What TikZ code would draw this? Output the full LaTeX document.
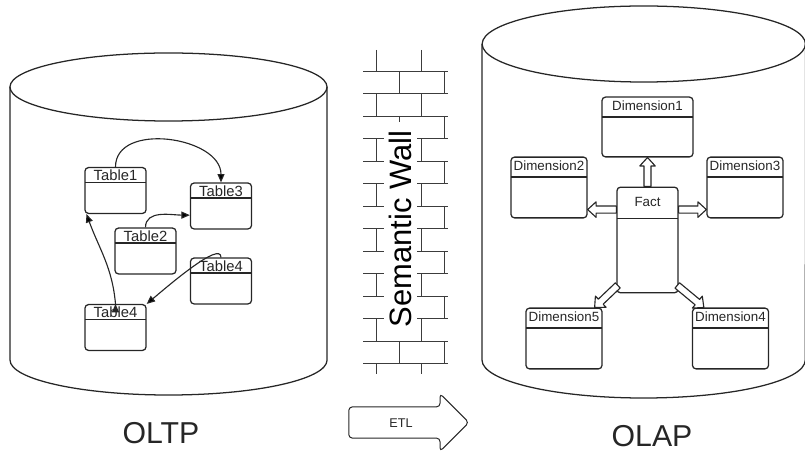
\documentclass[tikz,border=0pt]{standalone}
\usepackage{fontspec}
\setmainfont{Liberation Sans}
\usepackage{tikz}
\usetikzlibrary{arrows.meta,shapes.arrows,calc}

\definecolor{ink}{HTML}{262626}

% hollow block arrow between two named points
\newcommand{\fatarrow}[2]{%
	\coordinate (fa-h) at ($(#2)!6pt!(#1)$);
	\draw[fat] ($(#1)!2.5pt!90:(#2)$) -- ($(fa-h)!2.5pt!90:(#2)$) -- ($(fa-h)!5.5pt!90:(#2)$) -- (#2)
	-- ($(fa-h)!5.5pt!-90:(#2)$) -- ($(fa-h)!2.5pt!-90:(#2)$) -- ($(#1)!2.5pt!-90:(#2)$) -- cycle;}

\begin{document}
\begin{tikzpicture}[x=0.025cm,y=-0.025cm,
	db/.style={draw=ink,line width=0.9pt},
	brick/.style={draw=ink!90,line width=0.6pt},
	box/.style={draw=ink,line width=0.9pt,rounded corners=2.5pt,inner xsep=0pt,text=ink},
	hdr/.style={path picture={\draw[ink,line width=0.9pt] ([yshift=-#1]path picture bounding box.north west) -- ([yshift=-#1]path picture bounding box.north east);}},
	tbl/.style={box,hdr=0.375cm,minimum width=1.525cm,inner ysep=2pt,text height=7.5pt,text depth=21.1pt,font=\fontsize{10.5}{12}\selectfont},
	dim/.style={box,hdr=0.5cm,minimum width=1.9cm,inner ysep=3pt,text height=6.8pt,text depth=30.4pt,font=\fontsize{9.5}{11}\selectfont},
	fact/.style={box,hdr=0.775cm,minimum width=1.525cm,inner ysep=7pt,text height=6.8pt,text depth=54.3pt,font=\fontsize{9.5}{11}\selectfont},
	rel/.style={-{Triangle[length=6pt,width=5pt]},line width=0.8pt,draw=ink},
	fat/.style={draw=ink,line width=0.8pt,fill=white,line join=round},
	big/.style={font=\fontsize{21.5}{21.5}\selectfont,text=ink,inner sep=1pt}]
	\useasboundingbox (0,0) rectangle (805,451);
	
	% databases
	\draw[db] (10,87) -- (10,360) arc[start angle=180,end angle=360,x radius=3.9625cm,y radius=0.875cm] -- (327,87);
	\draw[db] (168.5,87) ellipse[x radius=3.9625cm,y radius=0.85cm];
	\draw[db] (482,44) -- (482,360) arc[start angle=180,end angle=360,x radius=4.04cm,y radius=0.95cm] -- (805.6,44);
	\draw[db] (643.8,44) ellipse[x radius=4.04cm,y radius=0.95cm];
	
	% OLTP tables
	\node[tbl] (t1) at (115.5,190.5) {Table1};
	\node[tbl] (t3) at (221,206) {Table3};
	\node[tbl] (t2) at (145.5,251) {Table2};
	\node[tbl] (t4b) at (221,281) {Table4};
	\node[tbl] (t4a) at (115.5,327.5) {Table4};
	\coordinate (t3in) at ([yshift=-6.5pt]t3.west);
	\coordinate (t1in) at ([xshift=1.5pt]t1.south west);
	%
	\path[rel]
	(t1.north) edge[out=90,in=90,looseness=1.1] (t3.north)
	(t2.north) edge[out=90,in=180] (t3in)
	(t4b.north) edge[out=90,in=40,out looseness=0.5,in looseness=0.8] (t4a.north east)
	(t4a.north) edge[out=95,in=-70] (t1in);
	
	% OLAP star schema
	\node[fact] (f) at (647.5,240) {Fact};
	\node[dim,minimum width=2.275cm,text depth=29.7pt] (d1) at (647.5,127) {Dimension1};
	\node[dim] (d2) at (549,187.5) {Dimension2};
	\node[dim] (d3) at (745,187.5) {Dimension3};
	\node[dim] (d5) at (564,338.5) {Dimension5};
	\node[dim] (d4) at (730.5,338.5) {Dimension4};
	\coordinate (fw) at ([yshift=-0.575cm]f.north west);
	\coordinate (fe) at ([yshift=-0.575cm]f.north east);
	\coordinate (d2e) at (d2.east |- fw);
	\coordinate (d3w) at (d3.west |- fe);
	\coordinate (fsw) at ([xshift=1pt,yshift=0.2cm]f.south west);
	\coordinate (fse) at ([xshift=-1pt,yshift=0.2cm]f.south east);
	\coordinate (d5in) at ([xshift=-0.2cm]d5.north east);
	\coordinate (d4in) at ([xshift=0.3cm]d4.north west);
	\fatarrow{f.north}{d1.south}
	\fatarrow{fw}{d2e}
	\fatarrow{fe}{d3w}
	\fatarrow{fsw}{d5in}
	\fatarrow{fse}{d4in}
	
	% brick wall
	\foreach \y in {71,93.5,...,363.5}
		\draw[brick] (363,\y) -- (448,\y);
	\foreach \ya/\yb in {50/71,93.5/116,138.5/161,183.5/206,228.5/251,273.5/296,318.5/341,363.5/374}
		\draw[brick] (376,\ya) -- (376,\yb) (421,\ya) -- (421,\yb);
	\foreach \ya in {71,116,161,206,251,296,341}
		\draw[brick] (399,\ya) -- (399,{\ya+22.5}) (444,\ya) -- (444,{\ya+22.5});
	\node[rotate=90,fill=white,inner xsep=5.9pt,inner ysep=4pt,font=\fontsize{22}{22}\selectfont] (wall) at (400.5,229) {Semantic Wall};
	
	% ETL arrow and captions
	\node[single arrow,draw=ink,line width=0.7pt,rounded corners=2.5pt,minimum height=3cm,single arrow head extend=0.33cm,
		inner ysep=7.5pt,text height=6.5pt,text depth=0pt,font=\fontsize{9}{9}\selectfont,text=ink] (etl) at (401,422.5) {ETL};
	\node[big] (oltp) at (161,433) {OLTP};
	\node[big] (olap) at (652,436) {OLAP};
\end{tikzpicture}
\end{document}
